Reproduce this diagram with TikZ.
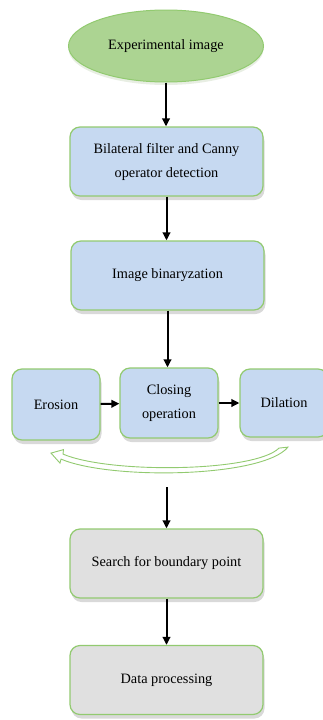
\documentclass[tikz,border=0pt]{standalone}
\usepackage{fontspec}
\setmainfont{Liberation Serif}
\usetikzlibrary{shapes,arrows.meta,positioning,calc,shadows}

\definecolor{boxblue}{RGB}{198,217,241}
\definecolor{boxgray}{RGB}{224,224,224}
\definecolor{edgegreen}{RGB}{146,202,112}
\definecolor{ovalgreen}{RGB}{172,212,146}

\tikzset{
    procbox/.style={rectangle, rounded corners=10pt, draw=edgegreen, line width=1.2pt,
        fill=boxblue, minimum width=193pt, minimum height=69pt, inner sep=2pt,
        align=center, font=\fontsize{14.3}{24}\selectfont,
        drop shadow={shadow xshift=1.5pt, shadow yshift=-4pt, opacity=0.3}},
    graybox/.style={procbox, fill=boxgray},
    flow/.style={-{Triangle[length=8pt,width=7.5pt]}, line width=2pt},
}

\begin{document}
\begin{tikzpicture}[x=1pt,y=-1pt]
    \useasboundingbox (0,0) rectangle (322,720);

    % main column
    \node[ellipse, draw=edgegreen, line width=1pt, fill=ovalgreen, minimum width=195pt,
        minimum height=72pt, inner sep=0pt, font=\fontsize{14.3}{24}\selectfont,
        drop shadow={shadow xshift=0pt, shadow yshift=-3pt, opacity=0.2, fill=ovalgreen!80!black}]
        (img) at (166,46) {Experimental image};
    \node[procbox] (filt) at (166.5,161.5) {Bilateral filter and Canny\\operator detection};
    \node[procbox] (bin) at (167.5,275.5) {Image binaryzation};

    % morphology row
    \node[procbox, minimum width=88pt, minimum height=71pt] (ero) at (56,404.5) {Erosion};
    \node[procbox, minimum width=98pt, minimum height=70pt] (clo) at (169,403) {Closing\\operation};
    \node[procbox, minimum width=88pt, minimum height=68pt] (dil) at (284,403) {Dilation};

    \node[graybox] (search) at (166.5,563.5) {Search for boundary point};
    \node[graybox] (data) at (166.5,680) {Data processing};

    % connectors
    \draw[flow] (img) -- (img.south |- filt.north);
    \draw[flow] (filt) -- (filt.south |- bin.north);
    \draw[flow] (bin) -- (bin.south |- clo.north);
    \draw[flow] (ero) -- (clo);
    \draw[flow] (clo) -- (dil);

    % loop back arrow
    \draw[edgegreen, line width=0.9pt, fill=white]
        ($(dil.south)+(-5,10.5)$) .. controls (255,472) and (110,474) .. ($(ero.south)+(7,13.5)$)
        -- ($(ero.south)+(7.5,9)$) -- ($(ero.south)+(-5,12.5)$)
        -- ($(ero.south)+(4,22.5)$) -- ($(ero.south)+(5,18.5)$)
        .. controls (110,480) and (262,478) .. ($(dil.south)+(4,9.5)$) -- cycle;

    \coordinate (loopout) at (166.5,487);
    \draw[flow] (loopout) -- (search);
    \draw[flow] (search) -- (data);
\end{tikzpicture}
\end{document}
